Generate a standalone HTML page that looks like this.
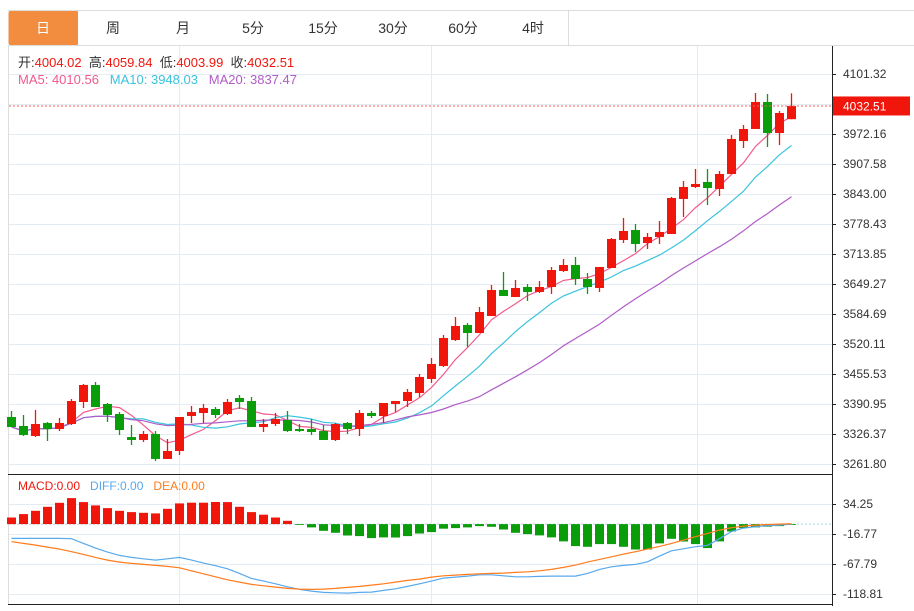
<!DOCTYPE html>
<html><head><meta charset="utf-8"><style>
html,body{margin:0;padding:0;background:#fff;}
body{width:914px;height:606px;overflow:hidden;font-family:"Liberation Sans","Noto Sans CJK SC",sans-serif;}
svg text{font-family:"Liberation Sans","Noto Sans CJK SC",sans-serif;}
</style></head><body>
<svg id="chart" width="914" height="606" xmlns="http://www.w3.org/2000/svg">
  <g id="tabs"></g>
  <g id="grid"></g>
  <g id="mas"></g>
  <g id="candles"></g>
  <g id="macd"></g>
  <g id="axes"></g>
  <g id="legend"></g>
</svg>
<script>
const tabLabels = ["日","周","月","5分","15分","30分","60分","4时"];
const priceTicks = [4101.32,4036.74,3972.16,3907.58,3843.00,3778.43,3713.85,3649.27,3584.69,3520.11,3455.53,3390.95,3326.37,3261.80];
const macdTicks = [34.25,-16.77,-67.79,-118.81];
const openP = [3363.0,3343.6,3322.1,3350.1,3337.1,3347.9,3395.3,3431.9,3391.0,3369.4,3319.9,3313.5,3326.4,3272.6,3289.8,3365.1,3371.6,3380.2,3369.4,3403.9,3397.4,3341.4,3347.9,3356.5,3337.1,3337.1,3332.8,3313.5,3350.1,3337.1,3371.6,3365.1,3391.0,3397.4,3414.6,3444.8,3472.8,3528.7,3561.0,3543.8,3580.4,3636.4,3621.3,3642.8,3632.1,3642.8,3677.3,3690.2,3660.0,3640.7,3683.7,3744.0,3765.5,3737.5,3750.5,3756.9,3832.3,3858.1,3868.9,3853.8,3886.1,3957.1,3983.0,4041.1,3974.3,4004.02];
const highP = [3375.9,3367.3,3378.0,3352.2,3360.8,3401.7,3434.0,3438.3,3393.1,3373.7,3345.8,3332.8,3332.8,3315.6,3363.0,3386.7,3391.0,3384.5,3401.7,3410.3,3406.0,3358.7,3371.6,3375.9,3347.9,3358.7,3345.8,3350.1,3352.2,3378.0,3375.9,3393.1,3397.4,3423.3,3455.5,3490.0,3539.5,3578.2,3565.3,3599.8,3647.1,3675.1,3657.9,3649.3,3655.7,3685.9,3703.1,3707.4,3673.0,3685.9,3748.3,3791.4,3778.4,3759.1,3784.9,3836.6,3871.0,3896.8,3896.8,3892.5,3970.0,3991.6,4060.4,4058.3,4021.7,4059.84];
const lowP = [3341.4,3322.1,3319.9,3311.3,3332.8,3345.8,3382.4,3384.5,3352.2,3324.2,3302.7,3309.2,3268.3,3272.6,3281.2,3350.1,3350.1,3360.8,3367.3,3380.2,3341.4,3330.7,3343.6,3330.7,3330.7,3324.2,3313.5,3311.3,3326.4,3322.1,3360.8,3350.1,3373.7,3384.5,3406.0,3436.2,3470.6,3526.6,3513.7,3543.8,3580.4,3623.5,3621.3,3612.7,3629.9,3627.8,3675.1,3647.1,3627.8,3632.1,3683.7,3737.5,3718.2,3724.6,3735.4,3756.9,3793.5,3855.9,3819.3,3838.7,3886.1,3942.1,3983.0,3944.2,3948.5,4003.99];
const closeP = [3341.4,3324.2,3347.9,3337.1,3350.1,3397.4,3431.9,3384.5,3367.3,3335.0,3313.5,3326.4,3272.6,3289.8,3363.0,3373.7,3382.4,3367.3,3395.3,3395.3,3341.4,3347.9,3358.7,3332.8,3332.8,3330.7,3313.5,3347.9,3337.1,3371.6,3365.1,3393.1,3397.4,3416.8,3449.1,3477.1,3533.0,3558.9,3543.8,3589.0,3636.4,3623.5,3640.7,3632.1,3642.8,3679.4,3690.2,3660.0,3642.8,3685.9,3746.2,3763.4,3735.4,3750.5,3761.2,3834.4,3858.1,3864.6,3855.9,3886.1,3961.4,3983.0,4041.1,3974.3,4017.4,4032.51];
const diffV = [-24.4,-24.4,-24.4,-24.4,-24.4,-24.9,-32.9,-40.8,-47.6,-53.3,-56.7,-59.0,-61.2,-59.0,-56.7,-61.2,-66.3,-70.8,-76.0,-83.9,-92.4,-96.9,-101.5,-106.6,-111.1,-113.9,-116.2,-116.8,-117.4,-116.2,-115.6,-112.8,-110.0,-106.0,-101.5,-96.9,-91.8,-90.1,-88.4,-86.2,-86.2,-87.9,-89.6,-89.6,-89.0,-88.4,-88.4,-88.4,-83.9,-77.1,-72.6,-70.3,-68.6,-64.1,-54.4,-45.4,-42.0,-38.5,-36.3,-24.9,-12.5,-6.8,-4.5,-2.8,-1.7,0];
const deaV = [-30.0,-32.9,-35.7,-39.1,-42.5,-47.0,-51.6,-56.7,-61.2,-64.6,-66.9,-68.6,-70.3,-72.0,-74.3,-79.4,-84.5,-89.6,-94.7,-98.6,-102.6,-104.9,-107.1,-109.4,-110.5,-111.1,-110.5,-109.4,-107.7,-106.0,-103.7,-101.5,-98.6,-95.8,-93.5,-90.1,-87.9,-86.7,-85.6,-84.5,-83.9,-83.3,-82.2,-81.1,-79.4,-77.1,-73.7,-69.7,-64.6,-60.1,-55.6,-51.0,-47.0,-42.5,-38.0,-32.9,-27.2,-21.5,-15.9,-10.2,-6.2,-3.4,-1.7,-0.6,0,0.6];

const NS="http://www.w3.org/2000/svg";
function mk(tag,attrs,parent){const e=document.createElementNS(NS,tag);for(const k in attrs)e.setAttribute(k,attrs[k]);parent.appendChild(e);return e;}
const RED="#f0160c",GREEN="#0a9d0a";
const xOf=i=>11.5+12*i;
const yP=v=>464-(v-3261.80)*30/64.58;
const yM=v=>524.1-v*30/51.02;

// tabs
const tabs=document.getElementById('tabs');
mk('line',{x1:8,y1:10.5,x2:914,y2:10.5,stroke:'#ddd'},tabs);
mk('line',{x1:8,y1:45.5,x2:914,y2:45.5,stroke:'#ddd'},tabs);
tabLabels.forEach((t,i)=>{
  const g=mk('g',{},tabs);
  
  
  const x=8+70*i;
  mk('rect',{x:x+(i==0?0.5:0),y:11,width:70,height:34,fill:i==0?'#f28c3f':'#fff',rx:i==0?2:0},g);
  mk('line',{x1:x+70.5,y1:11,x2:x+70.5,y2:45,stroke:'#ddd'},g);
  const tx=mk('text',{x:x+35,y:33,'text-anchor':'middle','font-size':14,fill:i==0?'#fff':'#333'},g);tx.textContent=t;
});

// grid
const grid=document.getElementById('grid');
mk('line',{x1:8.5,y1:46,x2:8.5,y2:604,stroke:'#ddd'},grid);
priceTicks.forEach(v=>{const y=Math.round(yP(v))+0.5;mk('line',{x1:9,y1:y,x2:832,y2:y,stroke:'#e4ebf2'},grid);});
macdTicks.forEach(v=>{const y=Math.round(yM(v))+0.5;mk('line',{x1:9,y1:y,x2:832,y2:y,stroke:'#e4ebf2'},grid);});
[179.5,431.5,697.5].forEach(x=>{mk('line',{x1:x,y1:46,x2:x,y2:474,stroke:'#e4ebf2'},grid);mk('line',{x1:x,y1:476,x2:x,y2:604,stroke:'#e4ebf2'},grid);});

// MAs
function ma(n){return closeP.map((c,i)=>{const s=Math.max(0,i-n+1);let t=0;for(let k=s;k<=i;k++)t+=closeP[k];return t/(i-s+1);});}
const mas=document.getElementById('mas');
[[5,'#f25a8c','ma5-line'],[10,'#3ac3dc','ma10-line'],[20,'#b05cc8','ma20-line']].forEach(([n,c,name])=>{
  const p=ma(n).map((v,i)=>(i?'L':'M')+xOf(i).toFixed(1)+','+yP(v).toFixed(1)).join('');
  const e=mk('path',{d:p,fill:'none',stroke:c,'stroke-width':1.2},mas);
  
  
});

// candles
const cg=document.getElementById('candles');
closeP.forEach((c,i)=>{
  const o=openP[i],up=c>=o,col=up?RED:GREEN,x=xOf(i);
  const g=mk('g',{},cg);
  
  
  mk('line',{x1:x,y1:yP(highP[i]),x2:x,y2:yP(lowP[i]),stroke:col,'stroke-width':1.3},g);
  const t=yP(Math.max(o,c)),b=yP(Math.min(o,c));
  mk('rect',{x:x-4.5,y:t,width:9,height:Math.max(1,b-t),fill:col},g);
});
// last price line
const last=closeP[closeP.length-1],ly=yP(last);
const lpl=mk('line',{x1:9,y1:ly,x2:832,y2:ly,stroke:'#f06060','stroke-dasharray':'2,2'},cg);



// MACD
const mg=document.getElementById('macd');
const z=yM(0);
mk('line',{x1:9,y1:z,x2:832,y2:z,stroke:'#a9d3ee','stroke-dasharray':'2,2'},mg);
diffV.forEach((d,i)=>{
  const h=2*(d-deaV[i]),y=yM(h),x=xOf(i);
  const r=mk('rect',{x:x-4.5,y:Math.min(y,z),width:9,height:Math.max(0.8,Math.abs(y-z)),fill:h>=0?RED:GREEN},mg);
  
  
});
[[diffV,'#58a9ec','diff-line'],[deaV,'#ff7b1c','dea-line']].forEach(([arr,c,name])=>{
  const p=arr.map((v,i)=>(i?'L':'M')+xOf(i).toFixed(1)+','+yM(v).toFixed(1)).join('');
  const e=mk('path',{d:p,fill:'none',stroke:c,'stroke-width':1.2},mg);
  
  
});

// axes
const ax=document.getElementById('axes');
mk('line',{x1:832.5,y1:46,x2:832.5,y2:606,stroke:'#222'},ax);
mk('line',{x1:8,y1:474.5,x2:832,y2:474.5,stroke:'#222'},ax);
mk('line',{x1:8,y1:604.5,x2:832,y2:604.5,stroke:'#222'},ax);
priceTicks.forEach(v=>{if(Math.abs(v-4036.74)<1)return;const y=Math.round(yP(v));
  mk('line',{x1:832,y1:y+0.5,x2:836,y2:y+0.5,stroke:'#222'},ax);
  const t=mk('text',{x:843,y:y+4,'font-size':12,fill:'#333'},ax);t.textContent=v.toFixed(2);
  
  
});
macdTicks.forEach(v=>{const y=Math.round(yM(v));
  mk('line',{x1:832,y1:y+0.5,x2:836,y2:y+0.5,stroke:'#222'},ax);
  const t=mk('text',{x:843,y:y+4,'font-size':12,fill:'#333'},ax);t.textContent=v.toFixed(2);
  
  
});
const lb=mk('g',{},ax);


mk('rect',{x:833,y:ly-9.5,width:77,height:19,fill:'#f0160c'},lb);
const lt=mk('text',{x:843,y:ly+4.5,'font-size':12,fill:'#fff'},lb);lt.textContent=last.toFixed(2);

// legend
const lg=document.getElementById('legend');
function txt(parts,x,y,size){const t=mk('text',{x:x,y:y,'font-size':size},lg);parts.forEach(([s,c])=>{const ts=mk('tspan',{fill:c},t);ts.textContent=s;});return t;}
const l1=txt([["开:","#333"],[openP[65].toFixed(2),RED],["  高:","#333"],[highP[65].toFixed(2),RED],["  低:","#333"],[lowP[65].toFixed(2),RED],["  收:","#333"],[closeP[65].toFixed(2),RED]],18,67,13);
l1.setAttribute('xml:space','preserve');l1.style.whiteSpace='pre';
const l2=txt([["MA5: 4010.56","#f25a8c"],["   MA10: 3948.03","#3ac3dc"],["   MA20: 3837.47","#b05cc8"]],18,84,13);
l2.style.whiteSpace='pre';
const l3=txt([["MACD:0.00","#f0160c"],["   DIFF:0.00","#58a9ec"],["   DEA:0.00","#ff7b1c"]],18,490,12);
l3.style.whiteSpace='pre';
</script>
</body></html>
